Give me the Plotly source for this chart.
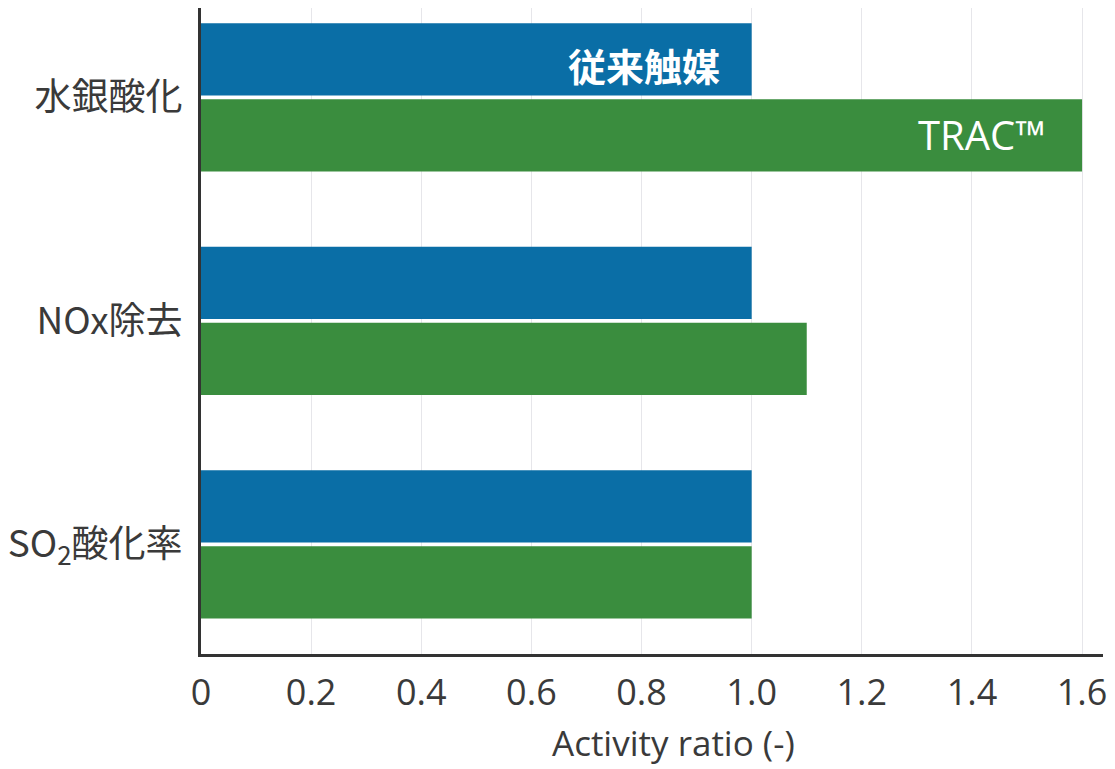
import plotly.graph_objects as go

categories = ["水銀酸化", "NOx除去", "SO<sub>2</sub>酸化率"]
conventional = [1.0, 1.0, 1.0]
trac = [1.6, 1.1, 1.0]
series_names = ["従来触媒", "TRAC™"]
tick_vals = [0, 0.2, 0.4, 0.6, 0.8, 1.0, 1.2, 1.4, 1.6]
tick_text = ["0", "0.2", "0.4", "0.6", "0.8", "1.0", "1.2", "1.4", "1.6"]
axis_title = "Activity ratio (-)"

BLUE = "#0a6ea6"
GREEN = "#3a8d3e"
TEXT = "#3a3a3a"
FONT = "Open Sans, Noto Sans CJK JP, sans-serif"

fig = go.Figure()
fig.add_trace(go.Bar(y=categories, x=conventional, orientation="h", name=series_names[0],
                     marker=dict(color=BLUE, line=dict(width=0))))
fig.add_trace(go.Bar(y=categories, x=trac, orientation="h", name=series_names[1],
                     marker=dict(color=GREEN, line=dict(width=0))))

fig.add_annotation(x=conventional[0], y=categories[0], text="<b>" + series_names[0] + "</b>",
                   xref="x", yref="y", xanchor="right", yanchor="middle", showarrow=False,
                   xshift=-30, yshift=33,
                   font=dict(family="Noto Sans CJK JP", size=38, color="white"))
fig.add_annotation(x=trac[0], y=categories[0], text=series_names[1],
                   xref="x", yref="y", xanchor="right", yanchor="middle", showarrow=False,
                   xshift=-34, yshift=-37,
                   font=dict(family=FONT, size=40, color="white"))
fig.add_annotation(x=0.524, y=0, xref="paper", yref="paper", text=axis_title,
                   xanchor="center", yanchor="middle", yshift=-88, showarrow=False,
                   font=dict(family=FONT, size=35, color=TEXT))

fig.update_layout(
    width=1115, height=769,
    margin=dict(l=201, r=10, t=8, b=115),
    paper_bgcolor="white", plot_bgcolor="white",
    barmode="group", bargap=0.32, bargroupgap=0.05,
    showlegend=False,
    font=dict(family=FONT, color=TEXT),
)
fig.update_xaxes(
    range=[0, 1.638], tickvals=tick_vals, ticktext=tick_text,
    showgrid=True, gridcolor="#e6e6ea", gridwidth=1,
    showline=True, linecolor="#333333", linewidth=3,
    ticks="outside", ticklen=5, tickcolor="rgba(0,0,0,0)",
    tickfont=dict(size=36, color=TEXT),
    zeroline=False,
)
fig.update_yaxes(
    autorange=False, range=[2.49, -0.4],
    showline=True, linecolor="#333333", linewidth=3,
    showgrid=False, ticks="outside", ticklen=8, tickcolor="rgba(0,0,0,0)",
    tickfont=dict(size=37, color=TEXT, family="Noto Sans CJK JP, Open Sans"),
)

fig.write_html("out.html")
